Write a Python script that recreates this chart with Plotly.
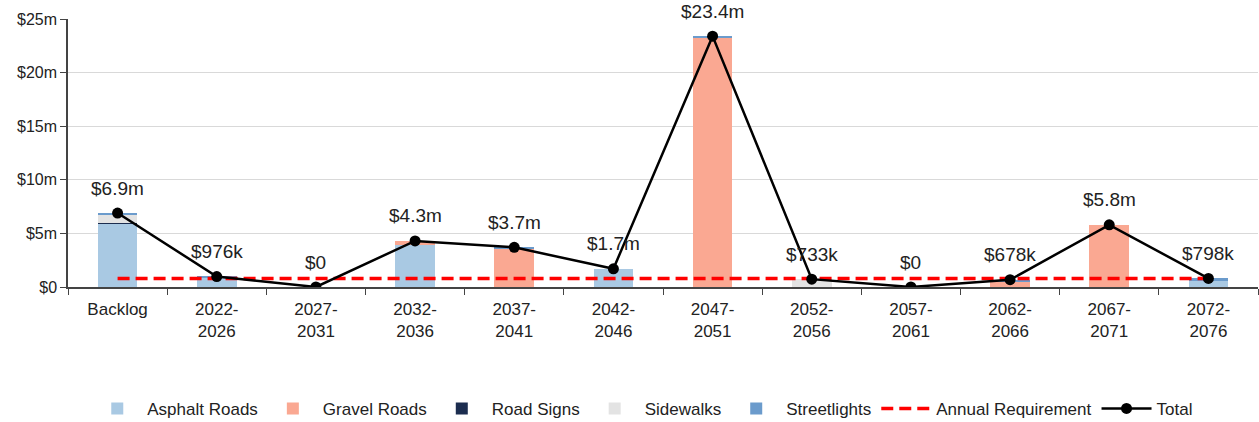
import plotly.graph_objects as go

categories = ["Backlog", "2022-<br>2026", "2027-<br>2031", "2032-<br>2036", "2037-<br>2041",
              "2042-<br>2046", "2047-<br>2051", "2052-<br>2056", "2057-<br>2061", "2062-<br>2066",
              "2067-<br>2071", "2072-<br>2076"]

# Values in $ millions
asphalt_roads = [5.9, 0.9, 0.0, 3.9, 0.0, 1.7, 0.0, 0.0, 0.0, 0.0, 0.0, 0.65]
gravel_roads = [0.0, 0.0, 0.0, 0.4, 3.6, 0.0, 23.2, 0.0, 0.0, 0.55, 5.8, 0.0]
road_signs = [0.1, 0.0, 0.0, 0.0, 0.0, 0.0, 0.0, 0.0, 0.0, 0.0, 0.0, 0.0]
sidewalks = [0.75, 0.0, 0.0, 0.0, 0.0, 0.0, 0.0, 0.733, 0.0, 0.0, 0.0, 0.0]
streetlights = [0.15, 0.076, 0.0, 0.0, 0.1, 0.0, 0.2, 0.0, 0.0, 0.128, 0.0, 0.148]
totals = [6.9, 0.976, 0.0, 4.3, 3.7, 1.7, 23.4, 0.733, 0.0, 0.678, 5.8, 0.798]
total_labels = ["$6.9m", "$976k", "$0", "$4.3m", "$3.7m", "$1.7m", "$23.4m", "$733k",
                "$0", "$678k", "$5.8m", "$798k"]
annual_requirement = [0.8] * len(categories)

y_tick_vals = [0, 5, 10, 15, 20, 25]
y_tick_text = ["$0", "$5m", "$10m", "$15m", "$20m", "$25m"]

FONT = "Liberation Sans, Arial, sans-serif"

fig = go.Figure()
bar_series = [
    ("Asphalt Roads", asphalt_roads, "#a9c9e3"),
    ("Gravel Roads", gravel_roads, "#faa892"),
    ("Road Signs", road_signs, "#1c2d4f"),
    ("Sidewalks", sidewalks, "#e3e3e3"),
    ("Streetlights", streetlights, "#6b9bcc"),
]
for name, vals, color in bar_series:
    fig.add_trace(go.Bar(x=categories, y=vals, name=name, marker_color=color,
                         marker_line_width=0))

fig.add_trace(go.Scatter(x=categories, y=annual_requirement, name="Annual Requirement",
                         mode="lines", line=dict(color="#ff0000", width=3.5, dash="12px,6px")))
fig.add_trace(go.Scatter(x=categories, y=totals, name="Total", mode="lines+markers",
                         line=dict(color="black", width=2.5),
                         marker=dict(color="black", size=11)))

for cat, val, lbl in zip(categories, totals, total_labels):
    fig.add_annotation(x=cat, y=val, text=lbl, showarrow=False, yshift=25,
                       yanchor="middle", font=dict(size=19, color="#222", family=FONT))

fig.update_layout(
    width=1259, height=422,
    margin=dict(l=68, r=1, t=19, b=135, autoexpand=False),
    barmode="stack", bargap=0.6,
    plot_bgcolor="white", paper_bgcolor="white",
    font=dict(family=FONT, size=16, color="#222"),
    legend=dict(orientation="h", x=0.483, xanchor="center",
                yref="container", y=0.031, yanchor="middle",
                font=dict(size=17), itemwidth=50, traceorder="normal"),
    showlegend=True,
)
fig.update_xaxes(range=[-0.5, len(categories) - 0.5], showline=True, linecolor="#444",
                 linewidth=1.5, ticks="outside", tickson="boundaries", ticklen=6,
                 tickcolor="#444", tickfont=dict(size=17), showgrid=False,
                 ticklabelstandoff=6, automargin=False)
fig.update_yaxes(range=[0, 25], tickvals=y_tick_vals, ticktext=y_tick_text,
                 showline=True, linecolor="#444", linewidth=1.5, ticks="outside",
                 ticklen=6, tickcolor="#444", showgrid=True, gridcolor="#d9d9d9",
                 tickfont=dict(size=16), zeroline=False, automargin=False)

fig.write_html("out.html")
